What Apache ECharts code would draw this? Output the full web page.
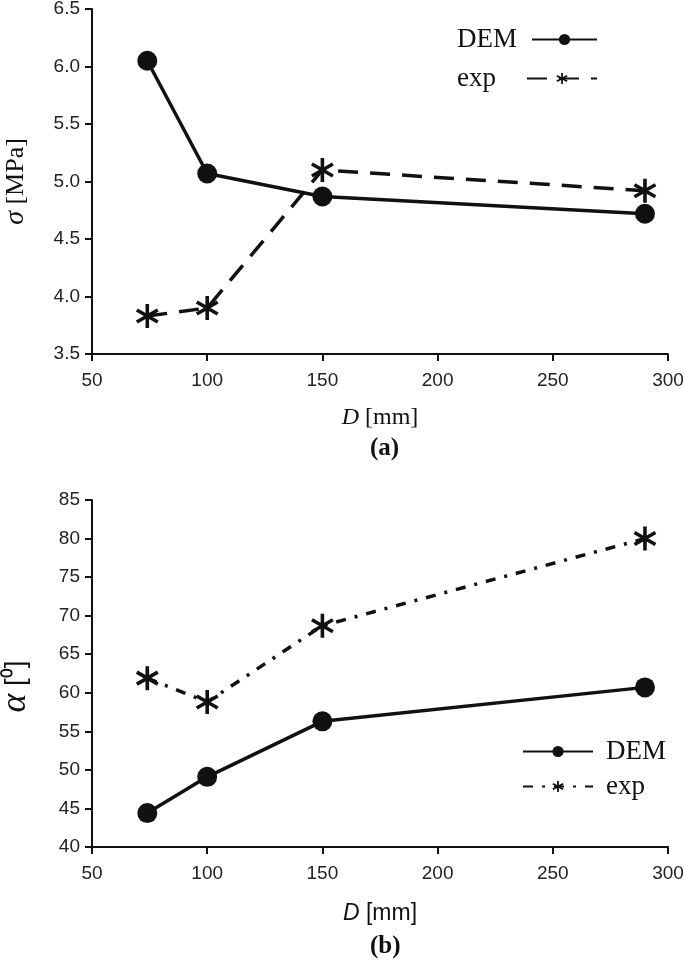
<!DOCTYPE html>
<html>
<head>
<meta charset="utf-8">
<style>
html,body{margin:0;padding:0;background:#fff;}
#chart{width:685px;height:963px;}
</style>
<script src="https://cdn.jsdelivr.net/npm/echarts@6/dist/echarts.min.js"></script>
</head>
<body>
<div id="chart"></div>
<script>
// ---- data ----
const diameters = [74, 100, 150, 290];
const sigmaDEM = [6.05, 5.07, 4.87, 4.72];
const sigmaExp = [3.83, 3.90, 5.10, 4.92];
const alphaDEM = [44.4, 49.1, 56.3, 60.7];
const alphaExp = [61.9, 58.8, 68.7, 80.0];
const seriesNames = ['DEM', 'exp'];
const panelLabels = ['(a)', '(b)'];

const starPath = 'path://M8.5 0 L11.5 0 L11.5 20 L8.5 20 Z M0.5 6.3 L2 3.7 L19.5 13.7 L18 16.3 Z M2 16.3 L0.5 13.7 L18 3.7 L19.5 6.3 Z';

const pair = (xs, ys) => xs.map((x, i) => [x, ys[i]]);

const chart = echarts.init(document.getElementById('chart'), null, {renderer: 'canvas'});

const axisCommon = {
  axisLine: {show: true, lineStyle: {color: '#111', width: 2}},
  axisTick: {show: true, length: 7, lineStyle: {color: '#111', width: 2}},
  splitLine: {show: false},
  axisLabel: {color: '#222', fontSize: 19, fontFamily: 'Liberation Sans'}
};

const serif = 'Liberation Serif';
const legendText = {fontFamily: serif, fontSize: 27, color: '#111'};

const option = {
  animation: false,
  backgroundColor: '#fff',
  grid: [
    {left: 92, right: 17, top: 9, height: 345, containLabel: false, outerBoundsMode: 'none'},
    {left: 92, right: 17, top: 500, height: 347, containLabel: false, outerBoundsMode: 'none'}
  ],
  xAxis: [
    Object.assign({}, axisCommon, {
      gridIndex: 0, type: 'value', min: 50, max: 300, interval: 50,
      axisLabel: Object.assign({}, axisCommon.axisLabel, {margin: 17}),
      name: '{i|D} [mm]', nameLocation: 'middle', nameGap: 52,
      nameTextStyle: {fontFamily: serif, fontSize: 24, color: '#111',
        rich: {i: {fontFamily: serif, fontStyle: 'italic', fontSize: 24, color: '#111'}}}
    }),
    Object.assign({}, axisCommon, {
      gridIndex: 1, type: 'value', min: 50, max: 300, interval: 50,
      axisLabel: Object.assign({}, axisCommon.axisLabel, {margin: 17}),
      name: '{i|D} [mm]', nameLocation: 'middle', nameGap: 55,
      nameTextStyle: {fontFamily: 'Liberation Sans', fontSize: 23, color: '#111',
        rich: {i: {fontFamily: 'Liberation Sans', fontStyle: 'italic', fontSize: 23, color: '#111'}}}
    })
  ],
  yAxis: [
    Object.assign({}, axisCommon, {
      gridIndex: 0, type: 'value', min: 3.5, max: 6.5, interval: 0.5,
      axisLabel: Object.assign({}, axisCommon.axisLabel, {margin: 12, formatter: v => v.toFixed(1)}),
      name: '{i|σ} [MPa]', nameLocation: 'middle', nameGap: 62,
      nameTextStyle: {fontFamily: serif, fontSize: 26, color: '#111',
        rich: {i: {fontFamily: serif, fontStyle: 'italic', fontSize: 28, color: '#111'}}}
    }),
    Object.assign({}, axisCommon, {
      gridIndex: 1, type: 'value', min: 40, max: 85, interval: 5,
      axisLabel: Object.assign({}, axisCommon.axisLabel, {margin: 12}),
      name: '{i|α} [⁰]', nameLocation: 'middle', nameGap: 58,
      nameTextStyle: {fontFamily: 'Liberation Sans', fontSize: 28, color: '#111', padding: [0, 26, 0, 0],
        rich: {i: {fontFamily: serif, fontStyle: 'italic', fontSize: 36, color: '#111'}}}
    })
  ],
  legend: [
    {data: ['DEM'], left: 452, top: 21, align: 'right', orient: 'vertical',
     itemWidth: 65, itemHeight: 14, textStyle: Object.assign({padding: [0, 10, 0, 0]}, legendText)},
    {data: ['exp'], left: 452, top: 60, align: 'right', orient: 'vertical',
     itemWidth: 70, itemHeight: 14, textStyle: Object.assign({padding: [0, 26, 0, 0]}, legendText)},
    {data: ['DEM '], left: 517, top: 733, align: 'left', orient: 'vertical',
     itemWidth: 70, itemHeight: 14, textStyle: Object.assign({padding: [0, 0, 0, 8]}, legendText)},
    {data: ['exp '], left: 517, top: 768, align: 'left', orient: 'vertical',
     itemWidth: 70, itemHeight: 14, textStyle: Object.assign({padding: [0, 0, 0, 8]}, legendText)}
  ],
  graphic: [
    {type: 'text', left: 370, top: 436, style: {text: panelLabels[0], fontFamily: serif, fontWeight: 'bold', fontSize: 25, fill: '#111'}},
    {type: 'text', left: 370, top: 934, style: {text: panelLabels[1], fontFamily: serif, fontWeight: 'bold', fontSize: 25, fill: '#111'}}
  ],
  series: [
    {name: seriesNames[0], type: 'line', xAxisIndex: 0, yAxisIndex: 0, data: pair(diameters, sigmaDEM),
     symbol: 'circle', symbolSize: 20, lineStyle: {color: '#111', width: 3.5}, itemStyle: {color: '#111'}, z: 3},
    {name: seriesNames[1], type: 'line', xAxisIndex: 0, yAxisIndex: 0, data: pair(diameters, sigmaExp),
     symbol: starPath, symbolKeepAspect: true, symbolSize: 24,
     lineStyle: {color: '#111', width: 3.5, type: [20, 12]}, itemStyle: {color: '#111'}, z: 2},
    {name: seriesNames[0] + ' ', type: 'line', xAxisIndex: 1, yAxisIndex: 1, data: pair(diameters, alphaDEM),
     symbol: 'circle', symbolSize: 20, lineStyle: {color: '#111', width: 3.5}, itemStyle: {color: '#111'}, z: 3},
    {name: seriesNames[1] + ' ', type: 'line', xAxisIndex: 1, yAxisIndex: 1, data: pair(diameters, alphaExp),
     symbol: starPath, symbolKeepAspect: true, symbolSize: 24,
     lineStyle: {color: '#111', width: 3.5, type: [10, 9, 3, 9]}, itemStyle: {color: '#111'}, z: 2}
  ]
};
chart.setOption(option);
</script>
</body>
</html>
